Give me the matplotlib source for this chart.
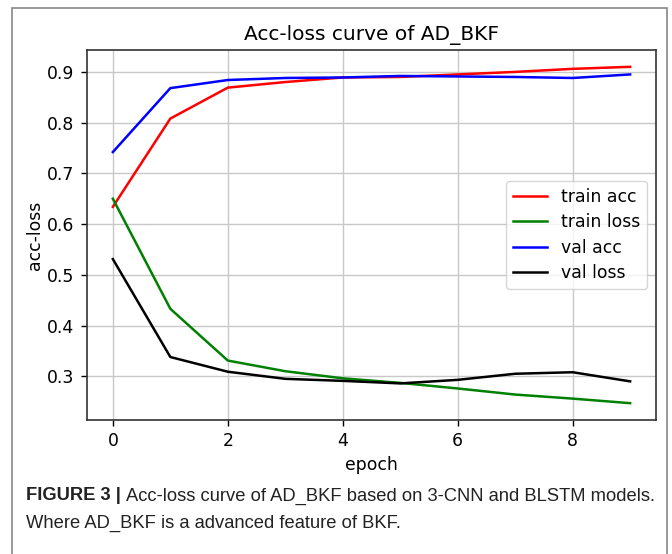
import matplotlib
matplotlib.use("Agg")
import matplotlib.pyplot as plt
from matplotlib.patches import Rectangle

epochs = list(range(10))
train_acc = [0.634, 0.808, 0.869, 0.880, 0.889, 0.890, 0.895, 0.900, 0.906, 0.910]
train_loss = [0.650, 0.433, 0.331, 0.310, 0.296, 0.287, 0.276, 0.264, 0.256, 0.247]
val_acc = [0.742, 0.868, 0.884, 0.888, 0.889, 0.892, 0.891, 0.890, 0.888, 0.895]
val_loss = [0.531, 0.338, 0.309, 0.295, 0.291, 0.286, 0.293, 0.305, 0.308, 0.290]

W, H = 672, 554
fig = plt.figure(figsize=(W / 100, H / 100), dpi=100)
fig.patch.set_facecolor("white")

# outer frame of the figure panel (open at the bottom, like the journal crop)
fig.patches.append(Rectangle((12 / W, -0.05), (667 - 12) / W, (H - 8) / H + 0.05,
                             transform=fig.transFigure, fill=False,
                             edgecolor="#888888", lw=1.2))

ax = fig.add_axes([87 / W, (H - 420) / H, (656 - 87) / W, (420 - 50) / H])
fs = 12.4
ax.plot(epochs, train_acc, color="red", lw=1.8, label="train acc")
ax.plot(epochs, train_loss, color="green", lw=1.8, label="train loss")
ax.plot(epochs, val_acc, color="blue", lw=1.8, label="val acc")
ax.plot(epochs, val_loss, color="black", lw=1.8, label="val loss")
ax.set_title("Acc-loss curve of AD_BKF", fontsize=14.5, pad=7)
ax.set_xlabel("epoch", fontsize=fs, labelpad=4)
ax.set_ylabel("acc-loss", fontsize=fs, labelpad=2)
ax.tick_params(labelsize=fs, length=4.5, width=1, pad=4.5)
ax.grid(True, color="#c8c8c8", lw=1)
for s in ax.spines.values():
    s.set_color("#333333")
    s.set_linewidth(1.2)
ax.legend(loc="center right", fontsize=fs, labelspacing=0.42)

# caption under the plot: bold label, then the regular text right after it
cap = dict(fontsize=13.2, family=["Liberation Sans", "DejaVu Sans"],
           va="center", color="#222222")
bold = fig.text(26 / W, 1 - 496 / H, "FIGURE 3 |", fontweight="bold", **cap)
r = fig.canvas.get_renderer()
x_end = bold.get_window_extent(r).x1
fig.text((x_end + 5) / W, 1 - 496 / H,
         "Acc-loss curve of AD_BKF based on 3-CNN and BLSTM models.", **cap)
fig.text(26 / W, 1 - 523 / H, "Where AD_BKF is a advanced feature of BKF.", **cap)

fig.savefig("out.png", dpi=100)
